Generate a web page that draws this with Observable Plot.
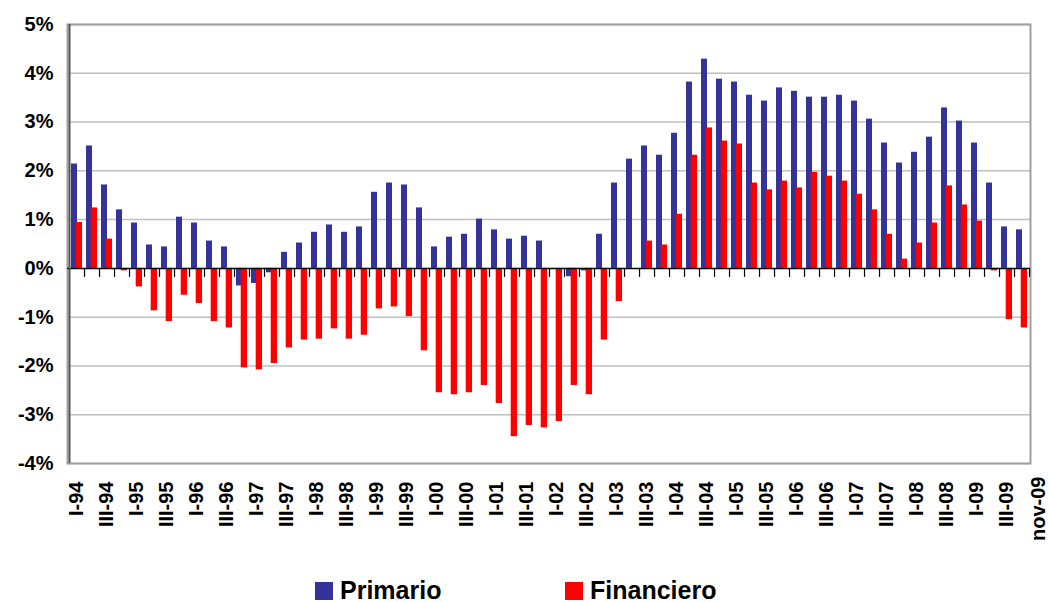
<!DOCTYPE html>
<html>
<head>
<meta charset="utf-8">
<script src="https://cdn.jsdelivr.net/npm/d3@7"></script>
<script src="https://cdn.jsdelivr.net/npm/@observablehq/plot@0.6"></script>
<style>
  html, body { margin: 0; padding: 0; background: #fff; }
  body { font-family: "Liberation Sans", Arial, sans-serif; width: 1049px; height: 602px; overflow: hidden; }
  #chart svg { display: block; }
  #legend { position: relative; height: 32px; }
  .item { position: absolute; top: 11px; display: flex; align-items: center; height: 20px; }
  .sw { width: 18px; height: 18px; margin-right: 7px; }
  .lab { font-weight: bold; font-size: 25px; line-height: 20px; color: #000; position: relative; top: -1px; }
</style>
</head>
<body>
<div id="chart"></div>
<div id="legend"></div>
<script>
const periods = [
  "I-94","II-94","III-94","IV-94","I-95","II-95","III-95","IV-95",
  "I-96","II-96","III-96","IV-96","I-97","II-97","III-97","IV-97",
  "I-98","II-98","III-98","IV-98","I-99","II-99","III-99","IV-99",
  "I-00","II-00","III-00","IV-00","I-01","II-01","III-01","IV-01",
  "I-02","II-02","III-02","IV-02","I-03","II-03","III-03","IV-03",
  "I-04","II-04","III-04","IV-04","I-05","II-05","III-05","IV-05",
  "I-06","II-06","III-06","IV-06","I-07","II-07","III-07","IV-07",
  "I-08","II-08","III-08","IV-08","I-09","II-09","III-09","nov-09"
];
const primario = [
  2.14, 2.51, 1.71, 1.20, 0.93, 0.48, 0.44, 1.05, 0.93, 0.56,
  0.44, -0.36, -0.31, -0.09, 0.33, 0.52, 0.74, 0.89, 0.74, 0.85,
  1.56, 1.75, 1.71, 1.24, 0.44, 0.64, 0.70, 1.01, 0.79, 0.60,
  0.66, 0.56, 0.00, -0.17, -0.05, 0.70, 1.75, 2.24, 2.51, 2.32,
  2.77, 3.82, 4.29, 3.88, 3.82, 3.55, 3.43, 3.70, 3.63, 3.51,
  3.51, 3.55, 3.43, 3.06, 2.57, 2.16, 2.38, 2.69, 3.29, 3.02,
  2.57, 1.75, 0.85, 0.79
];
const financiero = [
  0.94, 1.24, 0.60, -0.05, -0.38, -0.87, -1.09, -0.55, -0.72, -1.09,
  -1.22, -2.04, -2.08, -1.95, -1.63, -1.47, -1.45, -1.24, -1.45, -1.37,
  -0.83, -0.79, -0.99, -1.69, -2.55, -2.59, -2.55, -2.40, -2.77, -3.45,
  -3.22, -3.27, -3.14, -2.40, -2.59, -1.47, -0.68, 0.00, 0.56, 0.48,
  1.11, 2.32, 2.88, 2.61, 2.55, 1.75, 1.61, 1.79, 1.65, 1.97,
  1.89, 1.79, 1.52, 1.20, 0.70, 0.19, 0.52, 0.93, 1.69, 1.30,
  0.97, -0.05, -1.05, -1.22
];
const tickLabels = [
  "I-94","III-94","I-95","III-95","I-96","III-96","I-97","III-97",
  "I-98","III-98","I-99","III-99","I-00","III-00","I-01","III-01",
  "I-02","III-02","I-03","III-03","I-04","III-04","I-05","III-05",
  "I-06","III-06","I-07","III-07","I-08","III-08","I-09","III-09"
];
const lastLabel = ["nov-09"];
const yTicks = [-4, -3, -2, -1, 0, 1, 2, 3, 4, 5];
const seriesNames = ["Primario", "Financiero"];
const seriesColors = ["#333399", "#ff0000"];
const legendLeft = [315, 565];

const W = 1049, H = 570, mL = 67, mR = 19, mT = 24, mB = 107;
const bw = (W - mL - mR) / periods.length;
const tickDepth = 9 / ((H - mT - mB) / (yTicks[yTicks.length - 1] - yTicks[0]));

const data = periods.map((p, i) => ({period: p, primario: primario[i], financiero: financiero[i]}));

const chart = Plot.plot({
  width: W, height: H,
  marginLeft: mL, marginRight: mR, marginTop: mT, marginBottom: mB,
  style: {fontFamily: "'Liberation Sans', Arial, sans-serif", fontSize: "20px", fontWeight: "bold", color: "#000", background: "#fff"},
  x: {domain: periods, padding: 0, axis: null},
  y: {domain: [yTicks[0], yTicks[yTicks.length - 1]], axis: null},
  marks: [
    Plot.gridY(yTicks.filter(t => t !== 0), {stroke: "#c0c0c0", strokeOpacity: 1, strokeWidth: 1.5}),
    Plot.frame({stroke: "#a0a0a0", strokeWidth: 2}),
    Plot.barY(data, {x: "period", y: "primario", fill: seriesColors[0], insetLeft: 2, insetRight: 7}),
    Plot.barY(data, {x: "period", y: "financiero", fill: seriesColors[1], insetLeft: 6.7, insetRight: 2}),
    Plot.ruleY([0], {stroke: "#000", strokeWidth: 1.5}),
    Plot.ruleX(periods, {x: d => d, y1: 0, y2: -tickDepth, dx: bw / 2, stroke: "#000", strokeWidth: 1.2}),
    Plot.ruleX([periods[0]], {x: d => d, dx: -bw / 2, stroke: "#555", strokeWidth: 2}),
    Plot.axisY(yTicks, {tickSize: 8, tickPadding: 6, tickFormat: d => d + "%", fontSize: 20, fontWeight: "bold", stroke: null, fill: "#000", label: null}),
    Plot.axisX(tickLabels, {anchor: "bottom", tickSize: 0, tickPadding: 18, tickRotate: -90, fontSize: 20, fontWeight: "bold", fill: "#000", label: null}),
    Plot.axisX(lastLabel, {anchor: "bottom", tickSize: 0, tickPadding: 13, tickRotate: -90, fontSize: 20, fontWeight: "bold", fill: "#000", label: null, dx: 17})
  ]
});
document.getElementById("chart").appendChild(chart);

const legend = document.getElementById("legend");
seriesNames.forEach((name, i) => {
  const item = document.createElement("div");
  item.className = "item";
  item.style.left = legendLeft[i] + "px";
  const sw = document.createElement("div");
  sw.className = "sw";
  sw.style.background = seriesColors[i];
  const lab = document.createElement("span");
  lab.className = "lab";
  lab.textContent = name;
  item.appendChild(sw);
  item.appendChild(lab);
  legend.appendChild(item);
});
</script>
</body>
</html>
